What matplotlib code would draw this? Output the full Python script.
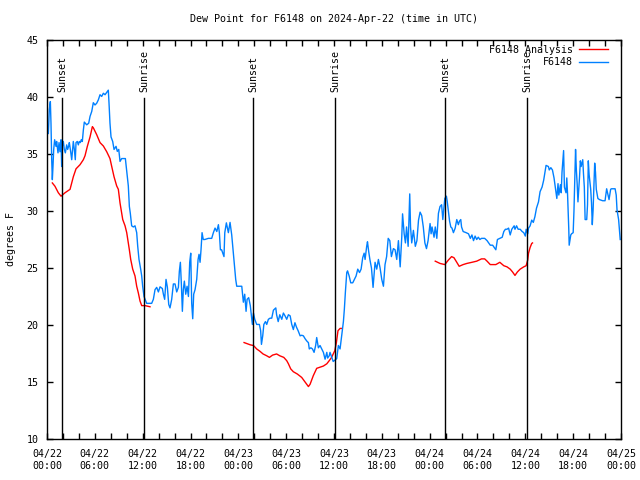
import numpy as np
import matplotlib
matplotlib.use("Agg")
import matplotlib.pyplot as plt

# ---- data (hours since 2024-04-22 00:00 UTC, dew point in F) ----
obs_hours = [
    0.17, 0.29, 0.42, 0.50, 0.59, 0.67, 0.75, 0.84, 0.96, 1.13, 1.21, 1.38, 1.51, 1.63, 1.76, 1.84,
    1.92, 2.05, 2.17, 2.30, 2.47, 2.59, 2.72, 2.80, 2.97, 3.10, 3.17, 3.30, 3.43, 3.55, 3.64, 3.80,
    3.93, 4.05, 4.18, 4.30, 4.43, 4.56, 4.68, 4.98, 5.23, 5.40, 5.61, 5.81, 6.02, 6.23, 6.44, 6.65,
    6.86, 7.07, 7.28, 7.49, 7.69, 7.78, 7.90, 8.03, 8.24, 8.41, 8.66, 8.82, 9.00, 9.16, 9.37, 9.58,
    9.83, 10.00, 10.20, 10.33, 10.45, 10.62, 10.83, 11.04, 11.25, 11.38, 11.54, 11.75, 11.88, 12.0,
    12.17, 12.5, 13.13, 13.34, 13.55, 13.76, 13.97, 14.18, 14.47, 14.6, 14.76, 14.93, 15.1, 15.27,
    15.43, 15.64, 15.85, 16.06, 16.27, 16.48, 16.6, 16.73, 16.86, 16.98, 17.1, 17.23, 17.4, 17.57,
    17.74, 17.9, 18.03, 18.15, 18.28, 18.4, 18.57, 18.78, 18.95, 19.07, 19.2, 19.32, 19.45, 19.6,
    19.8, 20.24, 20.66, 20.87, 21.08, 21.3, 21.5, 21.62,
    21.75, 21.9, 22.2, 22.3, 22.5, 22.75, 22.96, 23.17, 23.38, 23.67, 23.8, 24.43, 24.63, 24.8,
    24.97, 25.1, 25.3, 25.5, 25.6, 25.76, 25.9, 26.06, 26.3, 26.64, 26.8, 26.9, 27.06, 27.2, 27.4,
    27.56, 27.77, 27.98, 28.19, 28.4, 28.7, 28.8, 29.0, 29.2, 29.45, 29.65, 29.86, 30.07, 30.28,
    30.5, 30.7, 30.9, 31.1, 31.3, 31.5, 31.75, 31.95, 32.16, 32.37, 32.58, 32.79, 32.9, 33.1, 33.3,
    33.5, 33.7, 33.83, 34.04, 34.25, 34.46, 34.67, 34.88, 35.1, 35.2, 35.4,
    35.5, 35.9, 36.34, 36.55, 36.76, 36.97, 37.18, 37.3, 37.43, 37.6, 37.7, 37.9, 38.1, 38.35,
    38.56, 38.77, 38.98, 39.2, 39.4, 39.6, 39.78, 39.9, 40.1, 40.2, 40.35, 40.5, 40.7, 40.9, 41.15,
    41.36, 41.57, 41.78, 41.99, 42.2, 42.4, 42.6, 42.8, 43.0, 43.2, 43.45, 43.66, 43.87, 44.08,
    44.3, 44.5, 44.6, 44.8, 44.96, 45.1, 45.3, 45.5, 45.6, 45.75, 45.96, 46.2, 46.4, 46.6, 46.8,
    47.0, 47.2, 47.4, 47.6, 47.8, 48.05, 48.18, 48.3, 48.55, 48.7, 48.9, 49.1,
    49.3, 49.5, 49.65, 49.8, 49.9, 50.1, 50.2, 50.35, 50.5, 50.65, 50.8, 50.98, 51.2, 51.4, 51.6,
    51.73, 51.9, 52.0, 52.2, 52.57, 52.87, 53.1, 53.3, 53.5, 53.7, 53.9, 54.1, 54.3, 54.5, 54.7,
    54.9, 55.2, 55.4, 55.6, 55.9, 56.1, 56.3, 56.5, 56.8, 57.1, 57.3, 57.5, 57.7, 57.9, 58.1, 58.3,
    58.6, 58.7, 58.9, 59.1, 59.35, 59.6, 59.8, 60.0, 60.1, 60.3, 60.4, 60.6, 60.8, 61.0, 61.2,
    61.4, 61.65, 61.85, 62.1, 62.3, 62.5, 62.6, 62.9, 63.0, 63.2, 63.4, 63.6, 63.8, 63.95, 64.1,
    64.2, 64.4, 64.5, 64.6, 64.8, 64.9, 65.1, 65.2, 65.3, 65.45, 65.5, 65.7, 65.8, 66.0, 66.1,
    66.3, 66.4, 66.5, 66.6, 66.8, 66.9, 67.0, 67.2, 67.3, 67.4, 67.5, 67.7, 67.8, 67.9, 68.0,
    68.2, 68.3, 68.4, 68.5, 68.7, 68.8, 68.9, 69.1, 69.3, 69.7, 70.0, 70.2, 70.4, 70.5, 70.7,
    70.8, 71.05, 71.26, 71.4, 71.5, 71.7, 71.8, 71.9,
]
obs_dewpt = [
    36.8, 38.9, 39.6, 37.7, 34.5, 32.75, 33.9, 35.4, 36.25, 35.67, 36.1, 35.1, 36.0, 35.2, 36.25, 33.9,
    35.7, 36.1, 35.4, 35.1, 35.8, 35.4, 35.7, 36.0, 35.2, 34.5, 35.1, 36.1, 35.4, 34.5, 36.0, 36.1,
    35.8, 36.1, 36.0, 36.25, 36.1, 37.1, 37.8, 37.56, 37.7, 38.3, 38.73, 39.5, 39.3, 39.45, 39.75, 40.2,
    40.05, 40.33, 40.2, 40.4, 40.6, 39.45, 37.7, 36.5, 36.1, 35.4, 35.67, 35.23, 35.4, 34.35, 34.6, 34.6,
    34.6, 33.5, 32.2, 30.4, 29.8, 28.7, 28.6, 28.7, 28.1, 26.9, 25.75, 24.9, 24.3, 23.4,
    22.5, 21.9, 21.9, 22.25, 23.1, 23.3, 22.9, 23.35, 23.2, 22.7, 22.25, 24.0, 23.3, 21.8,
    21.5, 22.25, 23.6, 23.6, 22.9, 23.3, 24.7, 25.5, 23.5, 21.2, 23.1, 23.85, 22.7, 23.4,
    22.5, 25.5, 26.3, 21.9, 20.55, 22.7, 23.1, 24.0, 25.75, 26.2, 25.5, 26.6, 28.1, 27.5,
    27.5, 27.6, 27.6, 28.1, 28.5, 28.2, 28.8, 28.1,
    26.6, 26.6, 26.0, 28.1, 28.96, 28.1, 29.0, 27.9, 26.3, 24.0, 23.4, 23.4, 22.0, 22.7,
    21.2, 22.25, 22.4, 21.7, 21.05, 20.05, 21.05, 20.5, 20.05, 20.05, 19.5, 18.3, 19.05, 20.05, 20.3,
    20.05, 20.5, 20.6, 20.6, 21.3, 21.5, 20.9, 20.3, 20.9, 20.5, 21.05, 20.8, 20.5, 20.9,
    20.8, 20.05, 19.6, 20.2, 19.8, 19.5, 19.05, 19.1, 19.05, 18.8, 18.6, 18.45, 17.9, 18.0, 17.9,
    17.6, 18.2, 18.9, 18.0, 18.2, 17.9, 17.6, 17.0, 17.6, 17.1, 17.3,
    17.6, 16.8, 17.05, 18.2, 17.9, 19.1, 20.3, 21.4, 22.9, 24.6, 24.75, 24.3, 23.7, 23.7,
    24.0, 24.3, 24.9, 24.6, 24.9, 25.9, 26.3, 25.75, 26.9, 27.3, 26.45, 25.75, 25.0, 23.3, 25.5,
    24.9, 25.75, 25.0, 24.0, 23.4, 25.3, 26.0, 27.6, 27.4, 26.0, 26.7, 26.6, 25.75, 27.4,
    25.1, 27.7, 29.75, 28.0, 27.2, 28.6, 26.9, 31.5, 28.6, 27.2, 28.3, 26.9, 27.4, 29.2, 29.9,
    29.6, 28.6, 27.2, 26.7, 27.4, 28.9, 28.0, 28.6, 27.7, 28.6, 27.6, 29.8,
    30.4, 30.55, 29.25, 30.4, 31.1, 31.3, 30.85, 30.0, 29.1, 28.6, 28.5, 28.1, 28.5, 29.25, 28.8,
    29.1, 29.25, 28.6, 28.2, 28.1, 28.0, 27.6, 27.9, 27.4, 27.8, 27.5, 27.7, 27.5, 27.6, 27.6,
    27.6, 27.4, 27.2, 27.0, 27.0, 26.8, 26.6, 27.5, 27.6, 27.7, 28.2, 28.4, 28.4, 28.5, 27.9, 28.4,
    28.7, 28.4, 28.7, 28.4, 28.4, 28.2, 28.1, 27.8, 28.4, 28.0, 28.5, 28.7, 29.2, 29.0, 29.5,
    30.25, 30.8, 31.7, 32.1, 32.7, 33.6, 34.0, 33.9, 33.6, 33.8, 33.6, 32.9, 31.9, 31.1, 32.4,
    31.4, 32.3, 31.6, 33.4, 35.3, 32.1, 31.6, 32.9, 31.4, 28.4, 27.0, 27.9, 28.0, 28.1, 30.0,
    35.4, 33.6, 32.4, 30.8, 33.0, 34.4, 33.9, 34.5, 33.2, 32.1, 29.25, 29.25, 30.55, 34.4, 33.2,
    31.9, 30.7, 28.8, 30.1, 34.2, 33.4, 31.9, 31.1, 31.0, 30.9, 30.9, 31.95, 31.3, 31.0, 31.9,
    31.95, 31.95, 31.95, 31.4, 30.1, 29.25, 28.4, 27.5,
]

ana_hours_1 = [0.67, 1.0, 1.42, 1.76, 2.26, 2.89, 3.1, 3.3, 3.64, 4.14, 4.56, 4.77, 5.06, 5.4, 5.69,
               5.81, 6.23, 6.65, 7.07, 7.49, 7.9, 8.12, 8.41, 8.74, 8.95, 9.16, 9.5, 9.79, 10.0,
               10.33, 10.5, 10.75, 11.04, 11.25, 11.46, 11.67, 11.88, 12.3, 12.92]
ana_dewpt_1 = [32.46, 32.17, 31.6, 31.3, 31.6, 31.9, 32.46, 33.0, 33.7, 34.06, 34.5, 34.85, 35.67, 36.5,
               37.4, 37.3, 36.7, 36.0, 35.7, 35.2, 34.6, 33.9, 33.0, 32.2, 31.9, 30.7, 29.25, 28.7,
               28.1, 26.6, 25.75, 24.9, 24.3, 23.4, 22.8, 22.1, 21.7, 21.7, 21.6]
ana_hours_2 = [24.72, 25.5, 25.9, 26.3, 26.7, 27.1, 27.56, 27.9, 28.3, 28.8, 29.2, 29.7, 30.07, 30.28,
               30.57, 30.9, 31.4, 31.95, 32.37, 32.79, 33.0, 33.4, 33.83, 34.25, 34.67, 35.1, 35.4,
               35.7, 36.1, 36.3, 36.5, 36.76, 36.97]
ana_dewpt_2 = [18.46, 18.26, 18.2, 17.9, 17.7, 17.46, 17.3, 17.16, 17.36, 17.46, 17.3, 17.16, 16.87, 16.6,
               16.15, 15.9, 15.7, 15.4, 15.0, 14.6, 14.8, 15.55, 16.2, 16.3, 16.4, 16.6, 16.87,
               17.16, 17.75, 18.46, 19.5, 19.7, 19.7]
ana_hours_3 = [48.7, 49.3, 49.9, 50.35, 50.75, 51.05, 51.4, 51.7, 52.2, 52.66, 53.3, 53.9, 54.5, 54.9,
               55.2, 55.6, 56.0, 56.3, 56.8, 57.3, 57.7, 58.1, 58.4, 58.7, 59.0, 59.35, 59.8, 60.1,
               60.3, 60.4, 60.6, 60.8, 60.9]
ana_dewpt_3 = [25.6, 25.4, 25.3, 25.7, 26.0, 25.9, 25.5, 25.15, 25.3, 25.4, 25.5, 25.6, 25.8, 25.8,
               25.6, 25.3, 25.3, 25.3, 25.5, 25.2, 25.1, 24.9, 24.65, 24.35, 24.65, 24.9, 25.1, 25.2,
               25.7, 26.3, 26.8, 27.15, 27.2]

sun_hours = [1.85, 12.2, 25.88, 36.17, 49.96, 60.25]
sun_labels = ["Sunset", "Sunrise", "Sunset", "Sunrise", "Sunset", "Sunrise"]

xtick_hours = [0, 6, 12, 18, 24, 30, 36, 42, 48, 54, 60, 66, 72]
xtick_labels = ["04/22\n00:00", "04/22\n06:00", "04/22\n12:00", "04/22\n18:00",
                "04/23\n00:00", "04/23\n06:00", "04/23\n12:00", "04/23\n18:00",
                "04/24\n00:00", "04/24\n06:00", "04/24\n12:00", "04/24\n18:00",
                "04/25\n00:00"]
yticks = [10, 15, 20, 25, 30, 35, 40, 45]

# ---- plotting ----
FONT = "DejaVu Sans Mono"
FS = 7.2
plt.rcParams["font.family"] = [FONT, "DejaVu Sans"]

fig = plt.figure(figsize=(6.4, 4.8), dpi=100)
ax = fig.add_axes([47 / 640, 41 / 480, 574 / 640, 399 / 480])

ana_h = ana_hours_1 + [np.nan] + ana_hours_2 + [np.nan] + ana_hours_3
ana_d = ana_dewpt_1 + [np.nan] + ana_dewpt_2 + [np.nan] + ana_dewpt_3

ax.plot(ana_h, ana_d, color="#ff0000", lw=1.0, label="F6148 Analysis")
ax.plot(obs_hours, obs_dewpt, color="#0080ff", lw=1.0, label="F6148")

for h, lab in zip(sun_hours, sun_labels):
    ax.plot([h, h], [10, 39.9], color="black", lw=1.0)
    ax.text(h + 0.05, 40.45, lab, rotation=90, ha="center", va="bottom",
            fontsize=FS, family=FONT)

ax.set_xlim(0, 72)
ax.set_ylim(10, 45)
ax.set_xticks(xtick_hours)
ax.set_xticklabels(xtick_labels, fontsize=FS, family=FONT, linespacing=1.25)
ax.set_xticks(np.arange(0, 73, 2), minor=True)
ax.set_yticks(yticks)
ax.set_yticklabels([str(v) for v in yticks], fontsize=FS, family=FONT)
ax.tick_params(axis="both", which="both", direction="in", top=True, right=True,
               length=4, width=1, color="black")
ax.tick_params(axis="x", which="major", pad=7)
ax.tick_params(axis="y", which="major", pad=6)
for s in ax.spines.values():
    s.set_linewidth(1)
    s.set_color("black")

ax.set_ylabel("degrees F", fontsize=FS, family=FONT, labelpad=8)
fig.text(334 / 640, 1 - 19 / 480, "Dew Point for F6148 on 2024-Apr-22 (time in UTC)",
         ha="center", va="center", fontsize=FS, family=FONT)

leg = ax.legend(loc="upper right", bbox_to_anchor=(1 - 8 / 574, 1.0),
                frameon=False, markerfirst=False,
                prop={"family": FONT, "size": FS}, handlelength=2.9,
                handletextpad=0.6, labelspacing=0.25, borderaxespad=0.3,
                borderpad=0.2)

fig.savefig("out.png", dpi=100)
